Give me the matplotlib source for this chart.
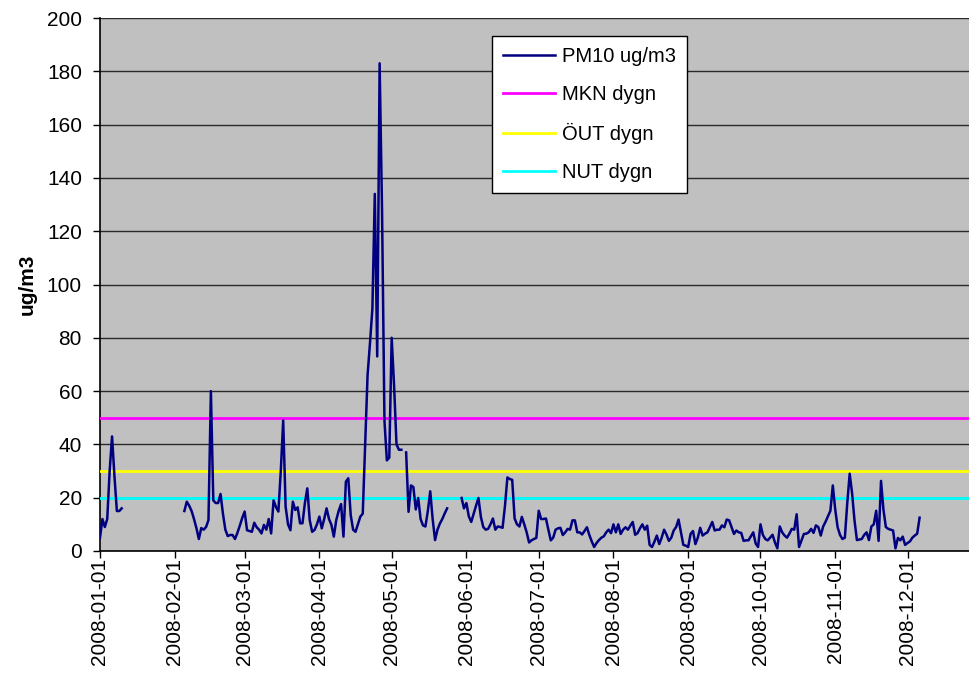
import numpy as np
import pandas as pd
import matplotlib
matplotlib.use("Agg")
import matplotlib.pyplot as plt
import matplotlib.dates as mdates

plt.rcParams['font.family'] = ['Liberation Sans', 'DejaVu Sans']

# PM10 dygnsmedel, segment med luckor emellan
seg1_start = "2008-01-01"
seg1 = [5, 12, 9, 12, 30, 43, 28, 15, 15, 16]

seg2_start = "2008-02-05"
seg2 = [15, 18.5, 17, 15, 12, 8.6, 4.5, 8.6, 8, 9, 11.6, 60, 19, 18, 18, 21.4,
        14, 8, 5.6, 6, 6, 4.5, 6.8, 9.5, 12.4,
        14.8, 7.8, 7.5, 7.2, 10.6, 8.9, 8, 6.6, 9.8, 8,
        12, 6.6, 19, 16.5, 14.8, 30, 49, 16.6, 10, 7.8,
        18.5, 15.4, 16.4, 10.4, 10.4, 18, 23.5, 11.6, 7.2, 7.9,
        10, 12.9, 8.5, 12, 16, 12, 9.8, 5.4, 11.6, 15,
        17.6, 5.4, 26, 27.3, 13.5, 8, 7.2, 10, 12.9, 14,
        40, 66, 78, 91, 134, 73, 183, 128, 49, 34, 35, 80, 62, 40, 38, 38]

seg3_start = "2008-05-07"
seg3 = [37, 14.7, 24.6, 24, 15.6, 19.9, 12, 9.6, 9.2, 15, 22.4, 12, 4.1, 8,
        10.3, 12, 14.1, 16]

seg4_start = "2008-05-30"
seg4 = [19.9, 16, 18, 13, 10.9, 14, 17, 19.9, 12.8, 9,
        8, 8.3, 10, 12.2, 8, 9.2, 9, 8.7, 16.9, 27.6,
        27, 26.7, 12.2, 10, 9.2, 12.8, 10, 7, 3.2, 4,
        4.5, 4.9, 15.1, 12, 12,
        12.2, 8, 4, 5, 8, 8.5, 8.7, 6, 7, 8.3,
        8, 11.5, 11.5, 7, 7, 6.2, 7.5, 8.9, 6, 3.6,
        1.5, 3, 4.1, 5, 5.5, 7, 8, 6.7, 10, 7,
        10, 6.4, 8, 8.9, 8, 9.5, 10.9, 6.1, 6.7, 8.5,
        10, 8, 9.5, 2.3, 1.5, 3.5, 5.8, 2.6, 5, 8,
        6.2, 3.8, 5, 7.7, 9, 11.8, 7, 2.3, 2, 1.5,
        6.4, 7.5, 2.6, 5, 8.7,
        5.8, 6.5, 7, 9, 10.9, 7.7, 8, 8, 9.6, 8.9,
        11.8, 11.5, 9, 6.4, 7.7, 7, 6.8, 3.8, 4, 4,
        5.5, 7, 2.8, 1.5, 10, 6, 4.5, 4, 5, 6.1,
        3.2, 1, 9.2, 7, 5.8, 5, 6.5, 8.3, 8, 13.8,
        1.5, 4, 6.4, 6.5, 7, 8.3, 6.8, 9.6, 9, 5.8,
        9.2, 11, 13, 15.1, 24.6, 15.6, 8.9, 6, 4.5, 5,
        18, 29, 21.7, 11.5, 4.1, 4.3, 4.5, 6, 7, 4.1,
        9.2, 10, 15.1, 3.8, 26.3, 15.6, 9, 8.3, 8, 7.7,
        1, 4.9, 4, 5.4, 2.3, 3, 3.6, 5, 5.8, 6.5,
        12.5]

# gränsvärden
mkn = 50
out = 30
nut = 20

series = []
for start, vals in [(seg1_start, seg1), (seg2_start, seg2),
                    (seg3_start, seg3), (seg4_start, seg4)]:
    idx = pd.date_range(start, periods=len(vals), freq="D")
    series.append(pd.Series(vals, index=idx))
pm10 = pd.concat(series)
pm10 = pm10.reindex(pd.date_range("2008-01-01", pm10.index[-1], freq="D"))

fig = plt.figure(figsize=(9.7, 6.82), dpi=100)
ax = fig.add_axes([100 / 970, 131 / 682, 869 / 970, 533 / 682])
ax.set_facecolor("#C0C0C0")

ax.plot(pm10.index, pm10.values, color="#000080", lw=1.8, label="PM10 ug/m3", zorder=5)
ax.axhline(mkn, color="#FF00FF", lw=2, label="MKN dygn", zorder=4)
ax.axhline(out, color="#FFFF00", lw=2, label="ÖUT dygn", zorder=4)
ax.axhline(nut, color="#00FFFF", lw=2, label="NUT dygn", zorder=4)

ax.set_ylim(0, 200)
ax.set_yticks(np.arange(0, 201, 20))
ax.yaxis.grid(True, color="#2a2a2a", lw=1)
ax.set_axisbelow(True)

t0 = pd.Timestamp("2008-01-01")
ax.set_xlim(t0, t0 + pd.Timedelta(days=360.5))
ax.xaxis.set_major_locator(mdates.MonthLocator())
ax.xaxis.set_major_formatter(mdates.DateFormatter("%Y-%m-%d"))
plt.setp(ax.get_xticklabels(), rotation=90)

for s in ["top", "right"]:
    ax.spines[s].set_visible(False)
ax.spines["left"].set_color("black")
ax.spines["bottom"].set_color("black")
ax.spines["left"].set_linewidth(1.2)
ax.spines["bottom"].set_linewidth(1.2)
ax.tick_params(axis="both", direction="out", length=5, width=1, labelsize=15)
ax.tick_params(axis="y", pad=8)
ax.tick_params(axis="x", pad=0)

ax.set_ylabel("ug/m3", fontsize=15, fontweight="bold", labelpad=7)

leg = ax.legend(loc="upper left", bbox_to_anchor=(0.4507, 0.9668), borderaxespad=0,
                fancybox=False, framealpha=1, edgecolor="black", fontsize=14.5,
                handlelength=2.6, labelspacing=0.95, borderpad=0.55, handletextpad=0.35)
leg.get_frame().set_linewidth(1)

fig.savefig("out.png", dpi=100)
